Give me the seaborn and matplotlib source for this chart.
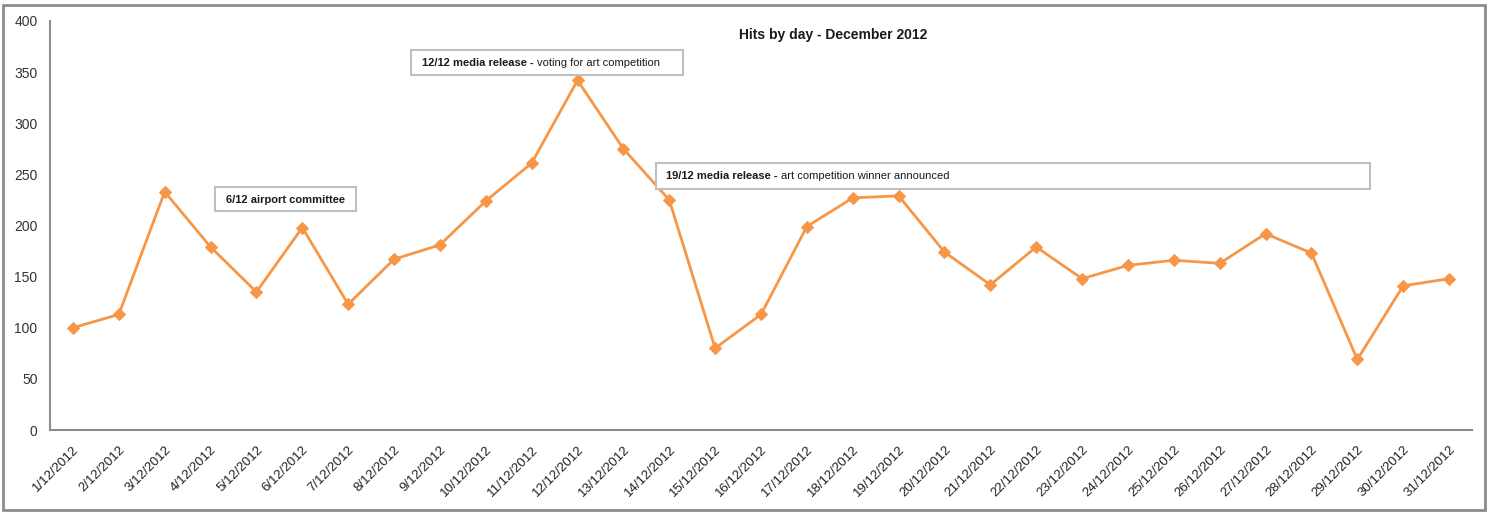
import pandas as pd
import seaborn as sns
import matplotlib.pyplot as plt
from matplotlib.patches import Rectangle

# daily hits, December 2012
days = [f"{d}/12/2012" for d in range(1, 32)]
hits = [100, 113, 233, 179, 135, 198, 123, 167, 181, 224, 261, 342, 275, 225, 80, 113,
        199, 227, 229, 174, 142, 179, 148, 161, 166, 163, 192, 173, 69, 141, 148]
y_ticks = [0, 50, 100, 150, 200, 250, 300, 350, 400]

title = "Hits by day - December 2012"
notes = [
    ("6/12 airport committee", ""),
    ("12/12 media release - ", "voting for art competition"),
    ("19/12 media release - ", "art competition winner announced"),
]

df = pd.DataFrame({"idx": range(len(days)), "day": days, "hits": hits})

sns.set_style("white")
plt.rcParams['font.family'] = ['Liberation Sans', 'DejaVu Sans']

W, H = 1487, 516
fig = plt.figure(figsize=(W / 100, H / 100), dpi=100)
ax = fig.add_axes([50 / W, 1 - 430 / H, (1472 - 50) / W, (430 - 21) / H])

sns.lineplot(data=df, x="idx", y="hits", ax=ax, color="#F79646", linewidth=2,
             marker="D", markersize=6.5, markeredgecolor="#F79646")

ax.set_xlim(-0.5, len(days) - 0.5)
ax.set_ylim(0, 400)
ax.set_yticks(y_ticks)
ax.set_xticks(df["idx"])
ax.set_xticklabels(days, rotation=45, ha="right", rotation_mode="anchor")
ax.tick_params(axis="both", length=0)
ax.tick_params(axis="y", pad=9, labelsize=10, labelcolor="#333333")
ax.tick_params(axis="x", pad=10, labelsize=9.5, labelcolor="#222222")
ax.set_xlabel("")
ax.set_ylabel("")
for side in ["top", "right"]:
    ax.spines[side].set_visible(False)
for side in ["left", "bottom"]:
    ax.spines[side].set_color("#8c8c8c")
    ax.spines[side].set_linewidth(1.5)

fig.text(833 / W, 1 - 35 / H, title, ha="center", va="center",
         fontsize=10, fontweight="bold", color="#1a1a1a")

# annotation boxes in figure pixels: (x0, y0, x1, y1, text_x, text_y)
boxes = [(215, 187, 356, 211, 226, 200),
         (411, 50, 683, 75, 422, 63),
         (656, 163, 1370, 189, 666, 176)]
for (bold, normal), (x0, y0, x1, y1, tx, ty) in zip(notes, boxes):
    fig.patches.append(Rectangle((x0 / W, 1 - y1 / H), (x1 - x0) / W, (y1 - y0) / H,
                                 transform=fig.transFigure, facecolor="white",
                                 edgecolor="#bfbfbf", linewidth=1.5, zorder=5))
    t = fig.text(tx / W, 1 - ty / H, bold, ha="left", va="center", fontsize=8,
                 fontweight="bold", color="#1a1a1a", zorder=6)
    if normal:
        fig.texts.append(plt.Annotation(normal, xy=(1, 0.5), xycoords=t, va="center",
                                        ha="left", fontsize=8, color="#1a1a1a"))
        fig.texts[-1].set_figure(fig)
        fig.texts[-1].set_zorder(6)

# outer chart border
fig.patches.append(Rectangle((3 / W, 1 - 510 / H), 1482 / W, 505 / H,
                             transform=fig.transFigure, fill=False,
                             edgecolor="#8c8c8c", linewidth=2))

fig.savefig("out.png", dpi=100)
